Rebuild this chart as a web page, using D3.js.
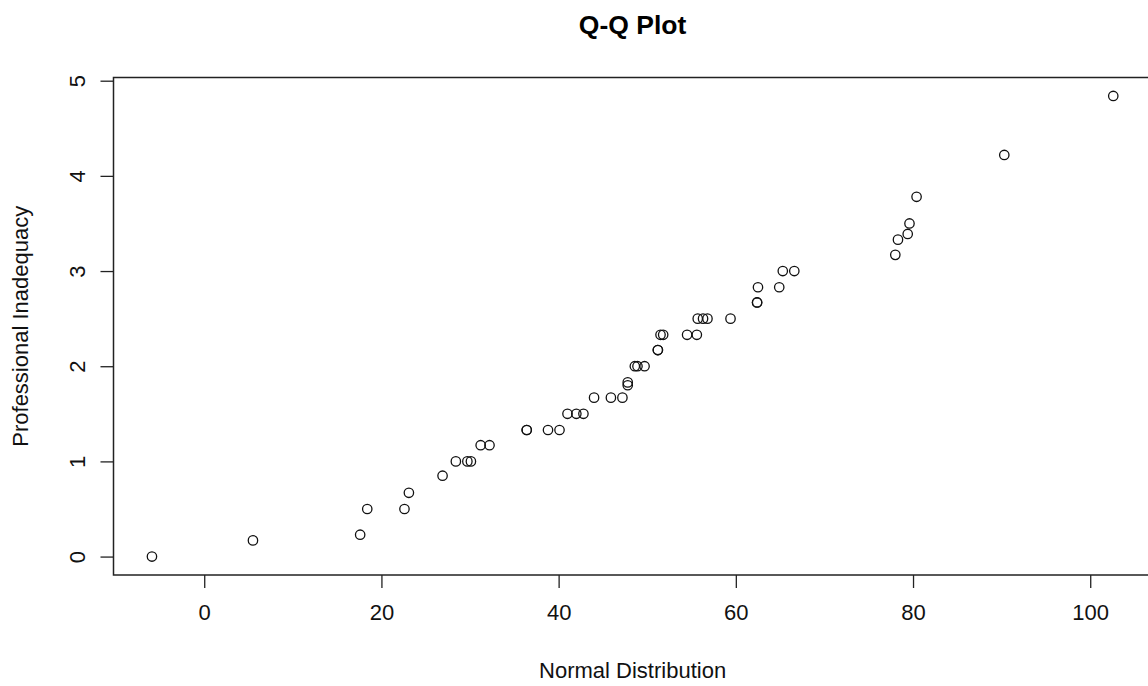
<!DOCTYPE html>
<html>
<head>
<meta charset="utf-8">
<script src="https://cdn.jsdelivr.net/npm/d3@7"></script>
<style>
  body { margin: 0; background: #fff; }
  svg { display: block; font-family: "Liberation Sans", Arial, sans-serif; }
</style>
</head>
<body>
<script>
// theoretical normal quantiles (x) against sorted sample values (y)
var normalQuantiles = [-5.9, 5.5, 17.6, 18.4, 22.6, 23.1, 26.9, 28.4, 29.7, 30.1,
  31.2, 32.2, 36.4, 36.4, 38.8, 40.1, 41.0, 42.0, 42.8, 44.0,
  45.9, 47.2, 47.8, 47.8, 48.6, 48.9, 49.7, 51.2, 51.2, 51.5,
  51.8, 54.5, 55.6, 55.7, 56.3, 56.8, 59.4, 62.4, 62.4, 62.5,
  64.9, 65.3, 66.6, 78.0, 78.3, 79.4, 79.6, 80.4, 90.3, 102.6];
var inadequacy = [0, 0.17, 0.23, 0.5, 0.5, 0.67, 0.85, 1, 1, 1,
  1.17, 1.17, 1.33, 1.33, 1.33, 1.33, 1.5, 1.5, 1.5, 1.67,
  1.67, 1.67, 1.8, 1.83, 2, 2, 2, 2.17, 2.17, 2.33,
  2.33, 2.33, 2.33, 2.5, 2.5, 2.5, 2.5, 2.67, 2.67, 2.83,
  2.83, 3, 3, 3.17, 3.33, 3.39, 3.5, 3.78, 4.22, 4.84];
var xTicks = [0, 20, 40, 60, 80, 100];
var yTicks = [0, 1, 2, 3, 4, 5];

var width = 1148, height = 686;
var plot = {left: 113.5, top: 77.5, bottom: 575};
var fs = 22;

// R style: pad data range by 4% on each side
function pad(ext) { var d = (ext[1] - ext[0]) * 0.04; return [ext[0] - d, ext[1] + d]; }
var xDom = pad(d3.extent(normalQuantiles));
var yDom = pad(d3.extent(inadequacy));
var pxPerUnit = 8.86;
plot.right = plot.left + (xDom[1] - xDom[0]) * pxPerUnit;

var x = d3.scaleLinear().domain(xDom).range([plot.left, plot.right]);
var y = d3.scaleLinear().domain(yDom).range([plot.bottom, plot.top]);

var svg = d3.select("body").append("svg")
  .attr("width", width)
  .attr("height", height);

// x axis
var gx = svg.append("g")
  .attr("transform", "translate(0," + plot.bottom + ")")
  .call(d3.axisBottom(x).tickValues(xTicks).tickSize(13).tickPadding(16));
gx.select(".domain").remove();
gx.selectAll(".tick line").attr("stroke", "#222").attr("stroke-width", 1.3);
gx.selectAll(".tick text").attr("font-size", fs).attr("fill", "#111")
  .attr("font-family", "Liberation Sans, Arial, sans-serif");

// y axis, labels parallel to the axis
var gy = svg.append("g")
  .attr("transform", "translate(" + plot.left + ",0)")
  .call(d3.axisLeft(y).tickValues(yTicks).tickSize(13));
gy.select(".domain").remove();
gy.selectAll(".tick line").attr("stroke", "#222").attr("stroke-width", 1.3);
gy.selectAll(".tick text").remove();
gy.selectAll(".tick").append("text")
  .attr("transform", "translate(-29,0) rotate(-90)")
  .attr("text-anchor", "middle")
  .attr("font-size", fs)
  .attr("fill", "#111")
  .attr("font-family", "Liberation Sans, Arial, sans-serif")
  .text(function(d) { return d; });

// box around plot region
svg.append("rect")
  .attr("x", plot.left).attr("y", plot.top)
  .attr("width", plot.right - plot.left)
  .attr("height", plot.bottom - plot.top)
  .attr("fill", "none").attr("stroke", "#222").attr("stroke-width", 1.5);

// points
var pts = normalQuantiles.map(function(v, i) { return {X: v, Y: inadequacy[i]}; });
svg.append("g").selectAll("circle")
  .data(pts)
  .enter().append("circle")
  .attr("cx", function(d) { return x(d.X); })
  .attr("cy", function(d) { return y(d.Y); })
  .attr("r", 4.7)
  .attr("fill", "none")
  .attr("stroke", "#111")
  .attr("stroke-width", 1.3);

var mid = (plot.left + plot.right) / 2;

// title
svg.append("text")
  .attr("x", mid).attr("y", 34)
  .attr("text-anchor", "middle")
  .attr("font-size", 26.5).attr("font-weight", "bold")
  .text("Q-Q Plot");

// axis titles
svg.append("text")
  .attr("x", mid).attr("y", 678)
  .attr("text-anchor", "middle")
  .attr("font-size", fs).attr("fill", "#111")
  .text("Normal Distribution");

svg.append("text")
  .attr("transform", "translate(28," + ((plot.top + plot.bottom) / 2) + ") rotate(-90)")
  .attr("text-anchor", "middle")
  .attr("font-size", fs).attr("fill", "#111")
  .text("Professional Inadequacy");
</script>
</body>
</html>
